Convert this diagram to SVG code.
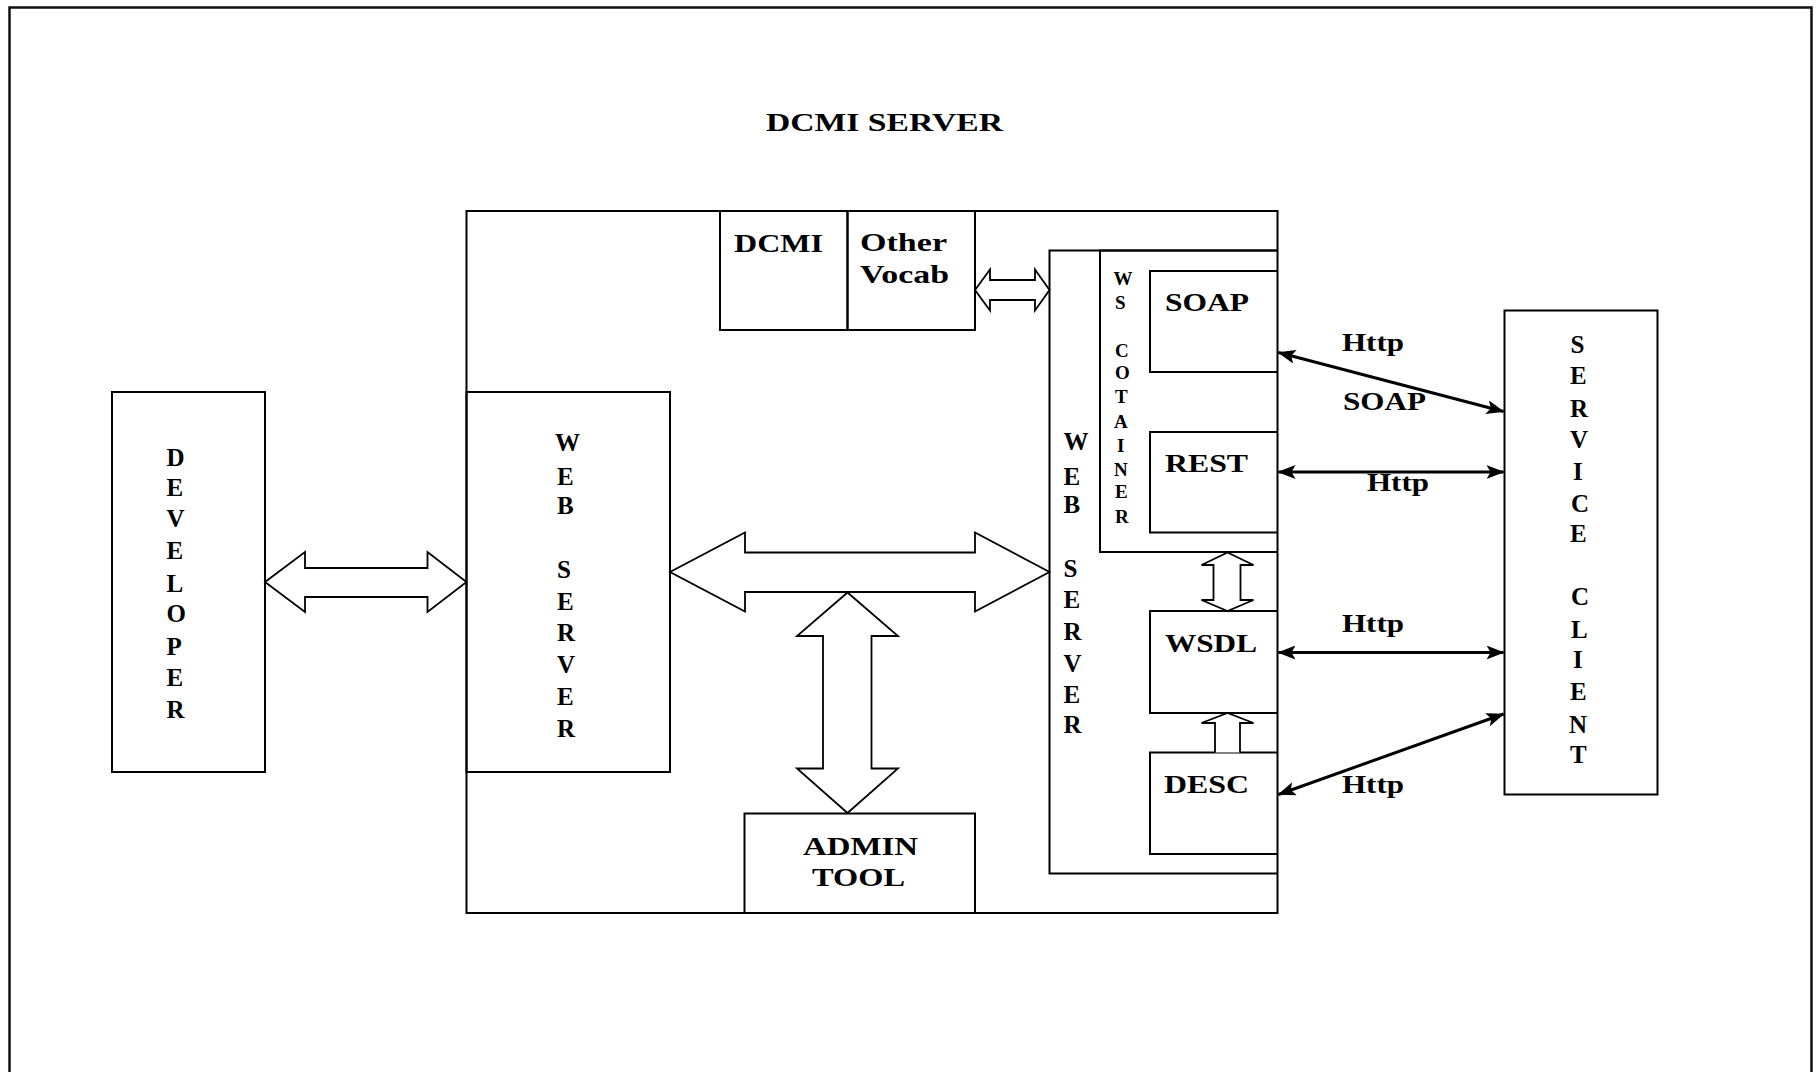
<svg xmlns="http://www.w3.org/2000/svg" width="1818" height="1072" viewBox="0 0 1818 1072">
<style>
.box{fill:none;stroke:#000;stroke-width:2}
.hollow{fill:#fff;stroke:#000;stroke-width:1.8;stroke-linejoin:miter}
.lbl{font-family:"Liberation Serif","Times New Roman",serif;font-weight:bold;font-size:25px;fill:#000}
.sm{font-size:19px}
.conn{stroke:#000;stroke-width:3;fill:none;marker-start:url(#ah);marker-end:url(#ah)}
</style>
<defs>
<marker id="ah" markerUnits="userSpaceOnUse" markerWidth="18" markerHeight="14" refX="17" refY="7" orient="auto-start-reverse" viewBox="0 0 18 14">
<path d="M0,0 L18,7 L0,14 L4,7 z" fill="#000"/>
</marker>
</defs>
<rect x="0" y="0" width="1818" height="1072" fill="#fff"/>
<path d="M9.5,1080 V7.5 H1811.5 V1080" fill="none" stroke="#111" stroke-width="2.5"/>

<text class="lbl" x="766" y="131" textLength="237" lengthAdjust="spacingAndGlyphs">DCMI SERVER</text>

<g id="dcmi-server">
<rect class="box" x="466.5" y="211" width="811" height="702"/>
</g>

<g id="developer">
<rect class="box" x="112" y="392" width="153" height="380"/>
<text class="lbl"><tspan x="166.5" y="466">D</tspan><tspan x="166.5" y="496">E</tspan><tspan x="166.5" y="527">V</tspan><tspan x="166.5" y="559">E</tspan><tspan x="166.5" y="591.5">L</tspan><tspan x="166.5" y="622">O</tspan><tspan x="166.5" y="655">P</tspan><tspan x="166.5" y="686">E</tspan><tspan x="166.5" y="718">R</tspan></text>
</g>

<g id="web-server-left">
<rect class="box" x="466.5" y="392" width="203.5" height="380"/>
<text class="lbl"><tspan x="555" y="451">W</tspan><tspan x="557" y="485">E</tspan><tspan x="557" y="514">B</tspan><tspan x="557" y="577.5">S</tspan><tspan x="557" y="610">E</tspan><tspan x="557" y="641">R</tspan><tspan x="557" y="673">V</tspan><tspan x="557" y="705">E</tspan><tspan x="557" y="737">R</tspan></text>
</g>

<g id="vocab">
<rect class="box" x="720" y="211" width="127.5" height="119"/>
<rect class="box" x="847.5" y="211" width="127.5" height="119"/>
<text class="lbl" x="734" y="251.5" textLength="89" lengthAdjust="spacingAndGlyphs">DCMI</text>
<text class="lbl" x="860" y="251" textLength="87" lengthAdjust="spacingAndGlyphs">Other</text>
<text class="lbl" x="860" y="283" textLength="89" lengthAdjust="spacingAndGlyphs">Vocab</text>
</g>

<g id="admin-tool">
<rect class="box" x="744.5" y="813.5" width="230.5" height="99.5"/>
<text class="lbl" x="803" y="854.5" textLength="115" lengthAdjust="spacingAndGlyphs">ADMIN</text>
<text class="lbl" x="812" y="886" textLength="93" lengthAdjust="spacingAndGlyphs">TOOL</text>
</g>

<g id="web-server-inner">
<path class="box" d="M1277.5,250.5 H1049.5 V873.5 H1277.5"/>
<text class="lbl"><tspan x="1063.5" y="450">W</tspan><tspan x="1063.5" y="485">E</tspan><tspan x="1063.5" y="513">B</tspan><tspan x="1063.5" y="576.5">S</tspan><tspan x="1063.5" y="608">E</tspan><tspan x="1063.5" y="640">R</tspan><tspan x="1063.5" y="671.5">V</tspan><tspan x="1063.5" y="703">E</tspan><tspan x="1063.5" y="733">R</tspan></text>
</g>

<g id="ws-container">
<path class="box" d="M1277.5,250.5 H1100 V552 H1277.5"/>
<text class="lbl sm"><tspan x="1113.5" y="285">W</tspan><tspan x="1115" y="309">S</tspan><tspan x="1115" y="356.5">C</tspan><tspan x="1115" y="379">O</tspan><tspan x="1115" y="403">T</tspan><tspan x="1114" y="427.5">A</tspan><tspan x="1117" y="451.5">I</tspan><tspan x="1114" y="476">N</tspan><tspan x="1115" y="498">E</tspan><tspan x="1115" y="522.5">R</tspan></text>
</g>

<g id="soap">
<path class="box" d="M1277.5,271 H1150 V372 H1277.5"/>
<text class="lbl" x="1165" y="311" textLength="84" lengthAdjust="spacingAndGlyphs">SOAP</text>
</g>
<g id="rest">
<path class="box" d="M1277.5,432 H1150 V532.5 H1277.5"/>
<text class="lbl" x="1165" y="471.5" textLength="83" lengthAdjust="spacingAndGlyphs">REST</text>
</g>
<g id="wsdl">
<path class="box" d="M1277.5,611 H1150 V713 H1277.5"/>
<text class="lbl" x="1165" y="652" textLength="92" lengthAdjust="spacingAndGlyphs">WSDL</text>
</g>
<g id="desc">
<path class="box" d="M1277.5,752.5 H1150 V854 H1277.5"/>
<text class="lbl" x="1164" y="792.5" textLength="85" lengthAdjust="spacingAndGlyphs">DESC</text>
</g>

<g id="service-client">
<rect class="box" x="1504.5" y="310.5" width="153" height="484"/>
<text class="lbl"><tspan x="1570.5" y="352.5">S</tspan><tspan x="1570" y="383.5">E</tspan><tspan x="1570" y="416.5">R</tspan><tspan x="1570" y="447.5">V</tspan><tspan x="1573" y="480">I</tspan><tspan x="1571" y="511.5">C</tspan><tspan x="1570" y="541.5">E</tspan><tspan x="1571" y="605">C</tspan><tspan x="1571" y="638">L</tspan><tspan x="1573" y="668">I</tspan><tspan x="1570" y="700">E</tspan><tspan x="1569" y="733">N</tspan><tspan x="1570" y="763">T</tspan></text>
</g>

<g id="connectors">
<polygon class="hollow" points="265,582 305,552 305,568 427.5,568 427.5,552 466.5,582 427.5,612 427.5,597 305,597 305,612"/>
<polygon class="hollow" points="670,572 745,532.5 745,552.5 975,552.5 975,532.5 1049.5,572 975,611.5 975,592 745,592 745,611.5"/>
<polygon class="hollow" points="847.5,592.5 898,636 871.5,636 871.5,768.5 898,768.5 847.5,813 797,768.5 823,768.5 823,636 797,636"/>
<polygon class="hollow" points="975,290 990,269.5 990,280 1035,280 1035,269.5 1049.5,290 1035,310.5 1035,300 990,300 990,310.5"/>
<polygon class="hollow" points="1227.5,552.5 1253.5,565 1240.5,565 1240.5,600 1253.5,600 1227.5,611 1201.5,600 1213.5,600 1213.5,565 1201.5,565"/>
<polyline class="hollow" points="1215,752.5 1215,723 1201.5,723 1227.5,713 1253.5,723 1240,723 1240,752.5"/>
<line class="conn" x1="1278.5" y1="352.5" x2="1503.5" y2="411.5"/>
<line class="conn" x1="1278.5" y1="472" x2="1503.5" y2="472"/>
<line class="conn" x1="1278.5" y1="652.5" x2="1503.5" y2="652.5"/>
<line class="conn" x1="1278.5" y1="794.5" x2="1503.5" y2="714"/>
<text class="lbl" x="1342" y="351" textLength="62" lengthAdjust="spacingAndGlyphs">Http</text>
<text class="lbl" x="1343" y="410" textLength="83" lengthAdjust="spacingAndGlyphs">SOAP</text>
<text class="lbl" x="1367" y="491" textLength="62" lengthAdjust="spacingAndGlyphs">Http</text>
<text class="lbl" x="1342" y="631.5" textLength="62" lengthAdjust="spacingAndGlyphs">Http</text>
<text class="lbl" x="1342" y="793" textLength="62" lengthAdjust="spacingAndGlyphs">Http</text>
</g>
</svg>
